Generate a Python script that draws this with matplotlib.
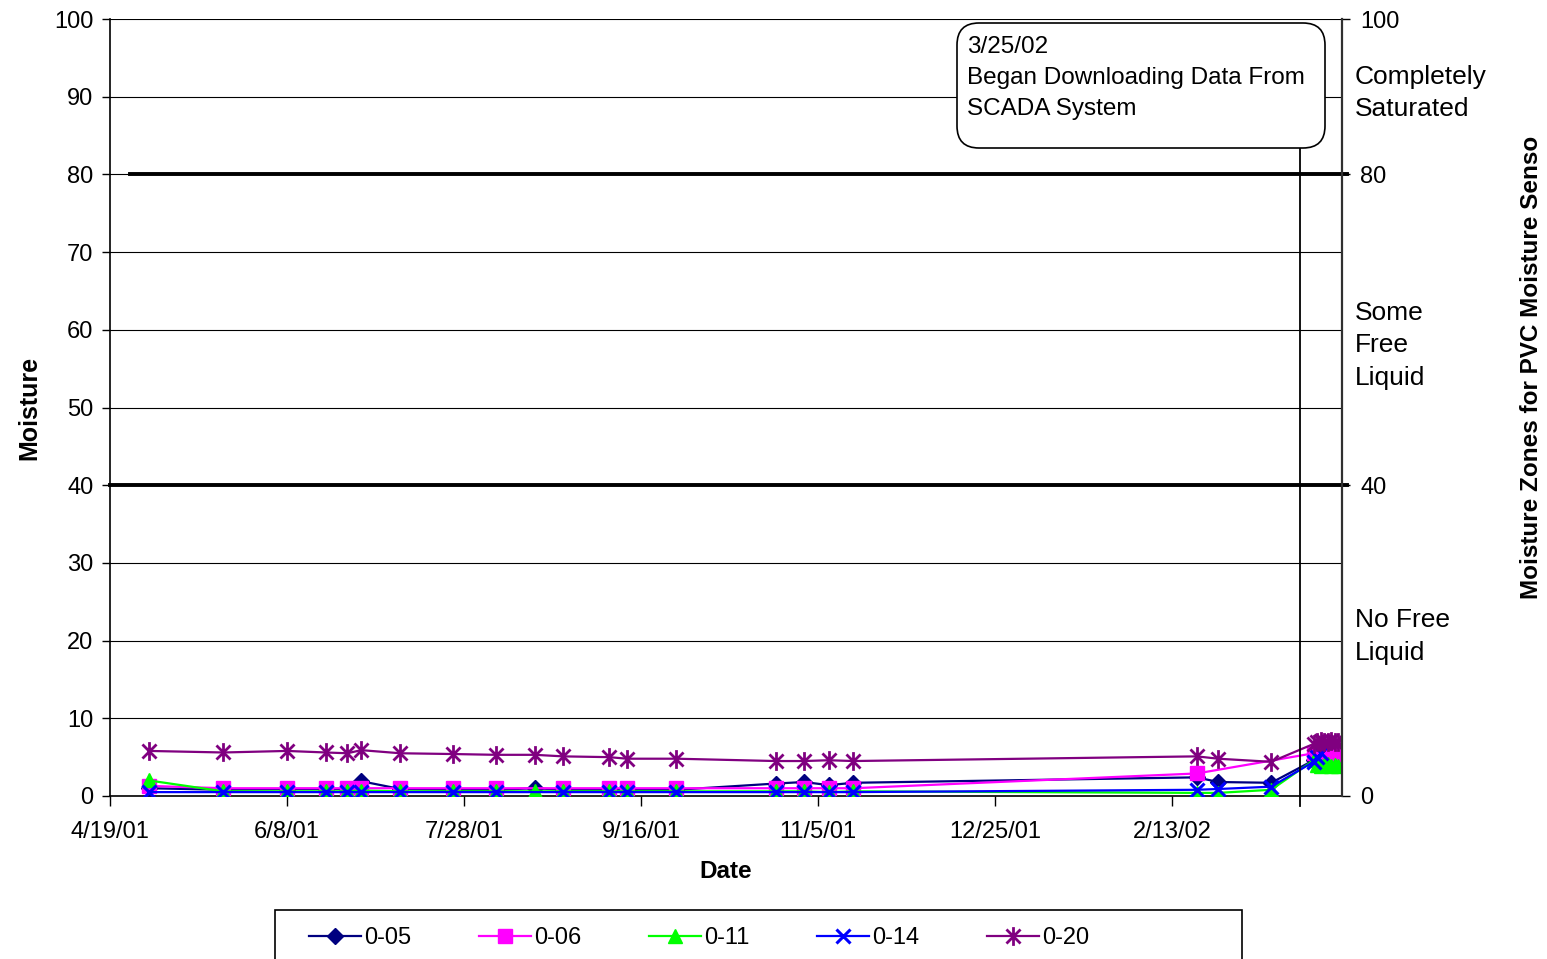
#!/usr/bin/env python3
# -*- coding: utf-8 -*-

"""
Moisture readings of the PVC moisture sensors, 4/19/01 to 4/2/02.
"""

import numpy as np
import pandas as pd
import matplotlib
matplotlib.use("Agg")
import matplotlib.pyplot as plt
from matplotlib.path import Path
from matplotlib.patches import FancyBboxPatch, Rectangle

plt.rcParams['font.family'] = ['Liberation Sans', 'DejaVu Sans']

# ---- data ----
early_dates = ['2001-04-30', '2001-05-21', '2001-06-08', '2001-06-19', '2001-06-25',
               '2001-06-29', '2001-07-10', '2001-07-25', '2001-08-06', '2001-08-17',
               '2001-08-25', '2001-09-07', '2001-09-12', '2001-09-26', '2001-10-24',
               '2001-11-01', '2001-11-08', '2001-11-15']
late_dates = ['2002-02-20', '2002-02-26', '2002-03-13']
scada_dates = ['2002-03-25', '2002-03-26', '2002-03-27', '2002-03-28',
               '2002-03-29', '2002-03-30', '2002-03-31', '2002-04-01']

dates_05 = early_dates + late_dates + scada_dates[:3]
vals_05 = [1.0, 0.8, 0.9, 0.9, 0.9, 1.9, 0.9, 0.8, 0.8, 1.0, 0.8, 0.8, 0.8, 0.8,
           1.6, 1.8, 1.4, 1.7, 2.4, 1.8, 1.7, 4.6, 5.2, 5.6]

dates_06 = [d for d in early_dates if d != '2001-08-17'] + ['2002-02-20'] + \
           [scada_dates[0]] + scada_dates[4:]
vals_06 = [1.3, 1.0, 1.0, 1.0, 1.0, 1.0, 1.0, 1.0, 1.0, 1.0, 1.0, 1.0, 1.0,
           1.0, 1.0, 1.0, 1.0, 2.9, 5.5, 5.3, 5.4, 5.3, 5.3]

dates_11 = early_dates + late_dates + scada_dates
vals_11 = [2.0, 0.6, 0.6, 0.6, 0.6, 0.7, 0.6, 0.6, 0.6, 0.6, 0.6, 0.6, 0.6, 0.6,
           0.6, 0.6, 0.5, 0.6, 0.4, 0.4, 0.8, 4.6, 4.0, 3.9, 4.0, 4.1, 3.8, 4.0, 3.9]

dates_14 = [d for d in early_dates if d != '2001-08-17'] + late_dates + scada_dates[:3]
vals_14 = [0.5, 0.5, 0.5, 0.5, 0.5, 0.5, 0.5, 0.5, 0.5, 0.5, 0.5, 0.5, 0.5,
           0.5, 0.5, 0.5, 0.5, 0.8, 0.9, 1.2, 4.4, 5.0, 5.5]

dates_20 = early_dates + late_dates + scada_dates
vals_20 = [5.8, 5.6, 5.8, 5.6, 5.5, 5.9, 5.5, 5.4, 5.3, 5.3, 5.1, 5.0, 4.8, 4.8,
           4.5, 4.5, 4.6, 4.5, 5.1, 4.8, 4.4, 6.7, 7.0, 7.1, 6.9, 7.0, 7.1, 6.9, 7.0]

series_names = ['0-05', '0-06', '0-11', '0-14', '0-20']
x_ticks = ['2001-04-19', '2001-06-08', '2001-07-28', '2001-09-16',
           '2001-11-05', '2001-12-25', '2002-02-13']
x_ticklabels = ['4/19/01', '6/8/01', '7/28/01', '9/16/01', '11/5/01', '12/25/01', '2/13/02']
zone_limits = [40, 80]
zone_labels = ['No Free\nLiquid', 'Some\nFree\nLiquid', 'Completely\nSaturated']
zone_label_y = [20.5, 58, 90.5]
scada_start = '2002-03-21'

# ---- styles ----
asterisk = Path([(0, -1), (0, 1), (-0.75, -0.75), (0.75, 0.75), (-0.75, 0.75), (0.75, -0.75)],
                [Path.MOVETO, Path.LINETO, Path.MOVETO, Path.LINETO, Path.MOVETO, Path.LINETO])
styles = [
    dict(color='#000080', marker='D', ms=8),
    dict(color='#FF00FF', marker='s', ms=10),
    dict(color='#00FF00', marker='^', ms=10.5),
    dict(color='#0000FF', marker='x', ms=10.5, mew=2.2),
    dict(color='#800080', marker=asterisk, ms=13.5, mew=2),
]

W, H = 1547, 959
fig = plt.figure(figsize=(W / 100, H / 100), dpi=100)
ax = fig.add_axes([110 / W, 1 - 796 / H, (1342 - 110) / W, (796 - 19) / H])

all_dates = [dates_05, dates_06, dates_11, dates_14, dates_20]
all_vals = [vals_05, vals_06, vals_11, vals_14, vals_20]
handles = []
for name, d, v, st in zip(series_names, all_dates, all_vals, styles):
    h, = ax.plot(pd.to_datetime(d), v, lw=1.6, label=name, zorder=3, **st)
    handles.append(h)

ax.set_xlim(pd.Timestamp('2001-04-19'), pd.Timestamp('2002-04-02'))
ax.set_ylim(0, 100)
ax.set_yticks(np.arange(0, 101, 10))
ax.set_xticks(pd.to_datetime(x_ticks))
ax.set_xticklabels(x_ticklabels)
ax.tick_params(axis='x', direction='out', length=7, width=1, pad=11, labelsize=17)
ax.tick_params(axis='y', direction='out', length=6, width=1, pad=6, labelsize=17)
ax.grid(axis='y', color='black', lw=0.8)
ax.spines['top'].set_visible(False)
ax.spines['right'].set_visible(False)
for s in ['left', 'bottom']:
    ax.spines[s].set_linewidth(1.2)

ax.set_xlabel('Date', fontsize=17.5, fontweight='bold', labelpad=12)
ax.set_ylabel('Moisture', fontsize=18, fontweight='bold', labelpad=9)

# zone boundaries
ytr = ax.get_yaxis_transform()
ax.plot([0.016, 1.004], [80, 80], transform=ytr, color='black', lw=2.8, clip_on=False, zorder=4)
ax.plot([0.0, 1.004], [40, 40], transform=ytr, color='black', lw=2.8, clip_on=False, zorder=4)

# SCADA marker line
sd = pd.Timestamp(scada_start)
ax.plot([sd, sd], [-1.3, 83.4], color='black', lw=1.3, clip_on=False, zorder=4)

# right axis with zones
ax2 = ax.twinx()
ax2.set_ylim(0, 100)
ax2.set_yticks([0] + zone_limits + [100])
ax2.tick_params(axis='y', direction='out', length=6, width=1, pad=7, labelsize=17)
for s in ['left', 'top', 'bottom']:
    ax2.spines[s].set_visible(False)
ax2.spines['right'].set_linewidth(1.6)
ax2.spines['right'].set_color('#303030')
for lab, y in zip(zone_labels, zone_label_y):
    ax2.text(1 + 13 / 1232, y, lab, transform=ax2.get_yaxis_transform(),
             ha='left', va='center', fontsize=19, linespacing=1.45)
fig.text(1532 / W, 1 - 367 / H, 'Moisture Zones for PVC Moisture Senso', rotation=90,
         ha='center', va='center', fontsize=17.5, fontweight='bold')

# callout box
box = FancyBboxPatch((957 / 100, (H - 148) / 100), 368 / 100, 125 / 100,
                     boxstyle='round,pad=0,rounding_size=0.22',
                     transform=fig.dpi_scale_trans, fc='white', ec='black', lw=1.2,
                     zorder=5)
fig.patches.append(box)
fig.text(967 / W, 1 - 36 / H, '3/25/02\nBegan Downloading Data From\nSCADA System',
         ha='left', va='top', fontsize=17.5, linespacing=1.52, zorder=6)

# legend
fig.patches.append(Rectangle((275 / W, -0.02), (1242 - 275) / W, (H - 910) / H + 0.02,
                             transform=fig.transFigure, fill=False, ec='black', lw=1.2))
fig.legend(handles=handles, labels=series_names, ncol=5, loc='center left',
           bbox_to_anchor=(309 / W, 1 - 938 / H), frameon=False, fontsize=17,
           handlelength=2.2, handletextpad=0.15, columnspacing=2.85,
           borderpad=0, borderaxespad=0)

fig.savefig('out.png', dpi=100)
